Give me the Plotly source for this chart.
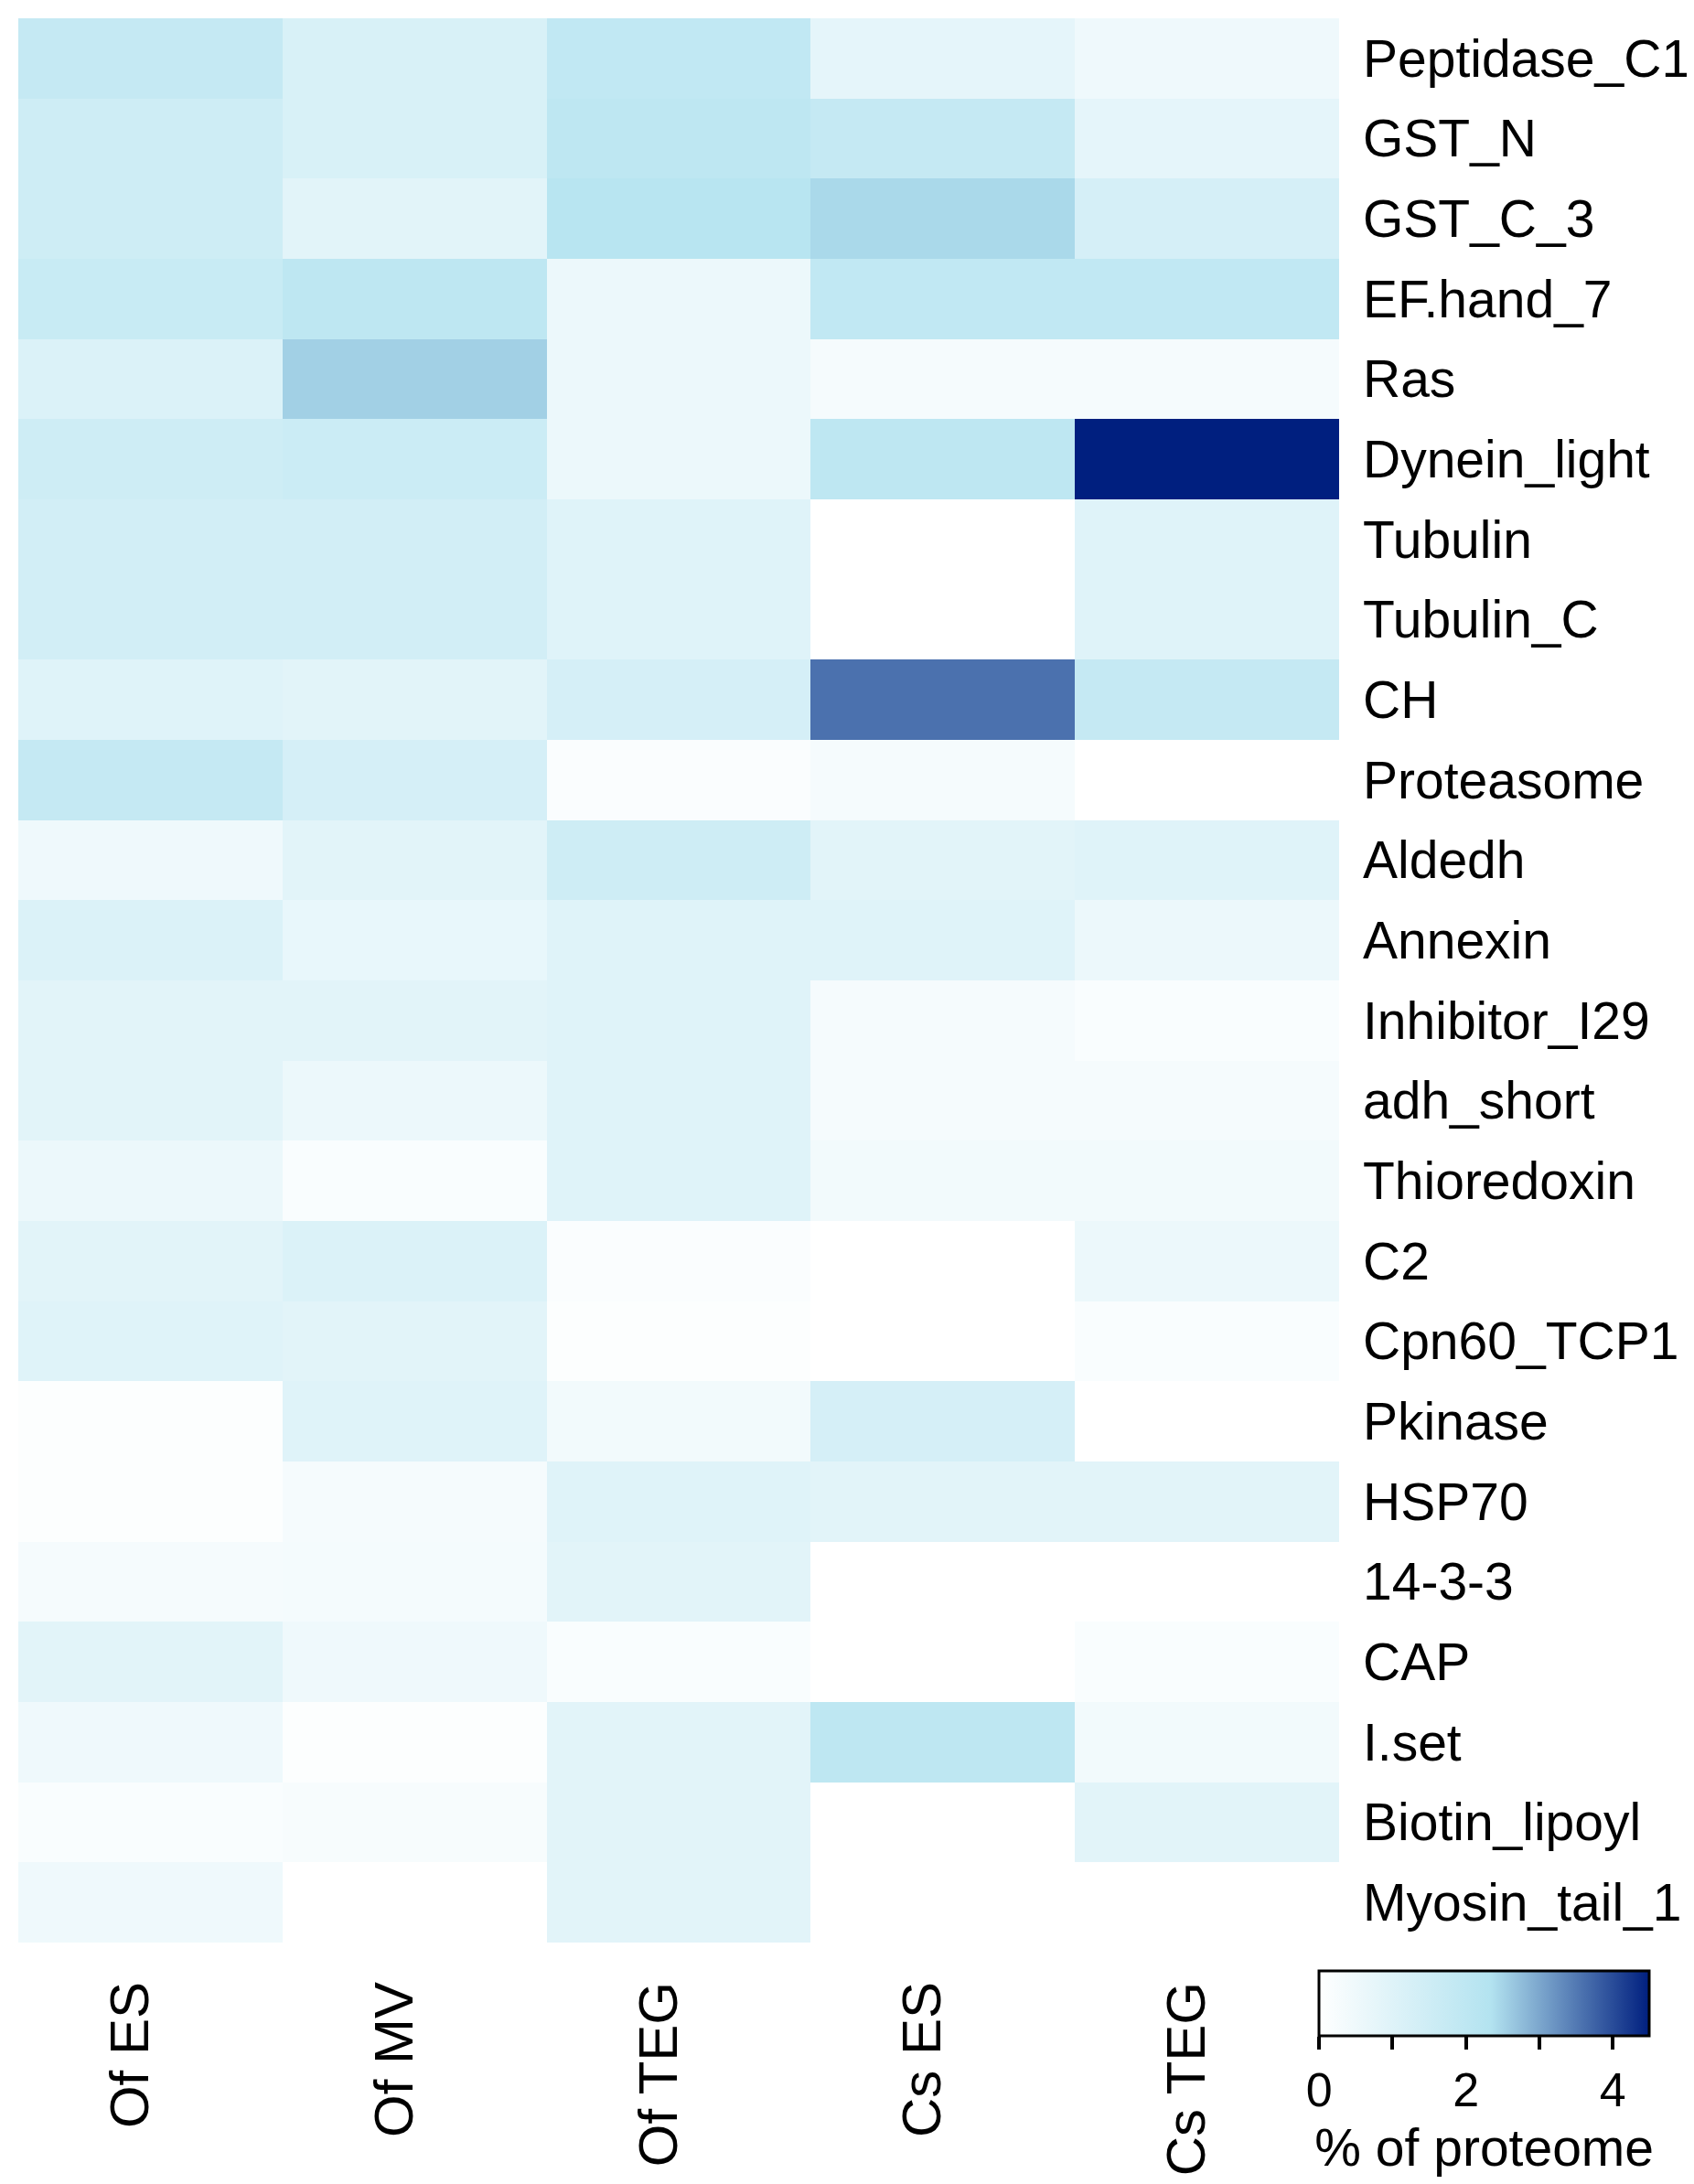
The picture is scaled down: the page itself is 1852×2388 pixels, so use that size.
import plotly.graph_objects as go

# Column (sample) labels and row (protein family) labels
samples = ["Of ES", "Of MV", "Of TEG", "Cs ES", "Cs TEG"]
families = [
    "Peptidase_C1", "GST_N", "GST_C_3", "EF.hand_7", "Ras", "Dynein_light",
    "Tubulin", "Tubulin_C", "CH", "Proteasome", "Aldedh", "Annexin",
    "Inhibitor_I29", "adh_short", "Thioredoxin", "C2", "Cpn60_TCP1",
    "Pkinase", "HSP70", "14-3-3", "CAP", "I.set", "Biotin_lipoyl",
    "Myosin_tail_1",
]

# % of proteome, one list per sample (same order as families)
of_es = [1.8, 1.5, 1.5, 1.7, 1.1, 1.5, 1.4, 1.4, 1.0, 1.8, 0.5, 1.1,
         0.9, 0.9, 0.6, 0.9, 1.0, 0.1, 0.1, 0.3, 0.9, 0.5, 0.2, 0.5]
of_mv = [1.2, 1.2, 0.9, 2.0, 2.55, 1.6, 1.4, 1.4, 0.9, 1.3, 0.9, 0.7,
         0.9, 0.6, 0.2, 1.1, 0.9, 1.0, 0.3, 0.35, 0.5, 0.1, 0.25, 0.0]
of_teg = [1.9, 2.0, 2.2, 0.6, 0.6, 0.6, 1.0, 1.0, 1.3, 0.15, 1.5, 1.0,
          1.0, 1.0, 1.0, 0.15, 0.1, 0.4, 1.0, 0.9, 0.2, 0.9, 0.9, 0.9]
cs_es = [0.8, 1.8, 2.45, 1.9, 0.3, 2.0, 0.0, 0.0, 3.6, 0.3, 0.9, 1.0,
         0.3, 0.3, 0.4, 0.0, 0.0, 1.3, 0.9, 0.0, 0.0, 2.0, 0.0, 0.0]
cs_teg = [0.5, 0.8, 1.3, 1.9, 0.3, 4.5, 1.0, 1.0, 1.8, 0.0, 1.0, 0.6,
          0.2, 0.3, 0.4, 0.6, 0.2, 0.0, 0.9, 0.0, 0.2, 0.4, 0.9, 0.0]

cbar_ticks = [0, 1, 2, 3, 4]
cbar_text = ["0", "", "2", "", "4"]

z = [list(r) for r in zip(of_es, of_mv, of_teg, cs_es, cs_teg)]

FONT = "Liberation Sans, Arial, sans-serif"

fig = go.Figure(
    go.Heatmap(
        z=z,
        x=samples,
        y=families,
        zmin=0,
        zmax=4.5,
        colorscale=[[0.0, "#FFFFFF"], [0.52, "#B3E3F0"], [1.0, "#001F7F"]],
        colorbar=dict(
            orientation="h",
            x=1.1099, xanchor="center",
            y=-0.0147, yanchor="top",
            len=361, lenmode="pixels",
            thickness=71,
            xpad=0, ypad=0,
            outlinecolor="black", outlinewidth=3,
            tickvals=cbar_ticks, ticktext=cbar_text,
            ticks="outside", ticklen=14, tickwidth=4, tickcolor="black",
            tickfont=dict(size=52, color="black", family=FONT),
            title=dict(text="% of proteome", side="bottom",
                       font=dict(size=57, color="black", family=FONT)),
        ),
        hovertemplate="%{y} / %{x}: %{z:.2f}%<extra></extra>",
    )
)

fig.update_layout(
    width=1852,
    height=2388,
    margin=dict(l=12, r=389, t=12, b=272),
    paper_bgcolor="white",
    plot_bgcolor="white",
    font=dict(family=FONT, size=58, color="black"),
)
fig.update_xaxes(
    type="category", tickangle=-90, ticks="", showgrid=False, zeroline=False,
    ticklabelstandoff=30, ticklabelshift=-22, tickfont=dict(size=60),
)
fig.update_yaxes(
    type="category", side="right", autorange="reversed", ticks="",
    showgrid=False, zeroline=False, ticklabelstandoff=25,
    tickfont=dict(size=57),
)

fig.write_html("out.html")
